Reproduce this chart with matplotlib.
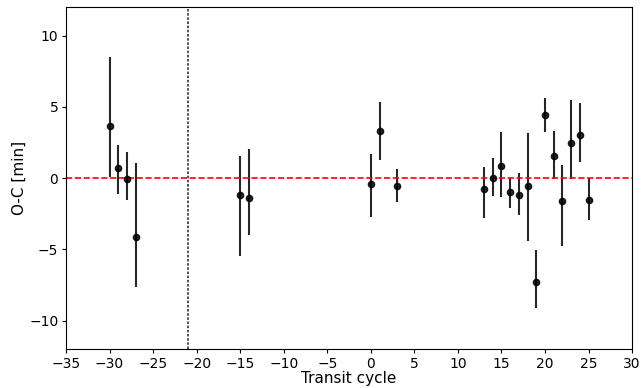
import numpy as np
import matplotlib
matplotlib.use('Agg')
import matplotlib.pyplot as plt

# transit timing residuals
epoch = [-30, -29, -28, -27, -15, -14, 0, 1, 3,
         13, 14, 15, 16, 17, 18, 19, 20, 21, 22, 23, 24, 25]
oc = [3.65, 0.72, -0.07, -4.15, -1.2, -1.38, -0.4, 3.3, -0.54,
      -0.77, 0.0, 0.84, -0.94, -1.17, -0.54, -7.32, 4.47, 1.59, -1.61, 2.48, 3.0, -1.54]
err_lo = [3.6, 1.8, 1.45, 3.5, 4.25, 2.6, 2.3, 2.05, 1.12,
          2.0, 1.26, 2.15, 1.14, 1.4, 3.85, 1.8, 1.22, 1.68, 3.15, 2.55, 1.86, 1.4]
err_hi = [4.85, 1.6, 1.9, 5.2, 2.77, 3.4, 2.13, 2.03, 1.17,
          1.52, 1.45, 2.41, 0.94, 1.54, 3.72, 2.27, 1.13, 1.73, 2.52, 2.99, 2.26, 1.54]

ref_epoch = -21

fig = plt.figure(figsize=(6.43, 3.88), dpi=100)
ax = fig.add_axes([0.1026, 0.1005, 0.8804, 0.8806])

ax.errorbar(epoch, oc, yerr=[err_lo, err_hi], fmt='ko', ms=4.5,
            ecolor='k', elinewidth=1.5, capsize=0, alpha=0.85)
ax.axhline(0, color='r', ls='--', lw=1.2)
ax.axvline(ref_epoch, color='k', ls=(0, (1.5, 1)), lw=1.2, alpha=0.8)

ax.set_xlim(-35, 30)
ax.set_ylim(-12, 12)
ax.set_xticks(np.arange(-35, 31, 5))
ax.set_yticks([-10, -5, 0, 5, 10])
ax.tick_params(labelsize=10, length=3, pad=2.5)
ax.set_xlabel('Transit cycle', fontsize=11, labelpad=0)
ax.set_ylabel('O-C [min]', fontsize=11, labelpad=2)

fig.savefig('out.png', dpi=100)
